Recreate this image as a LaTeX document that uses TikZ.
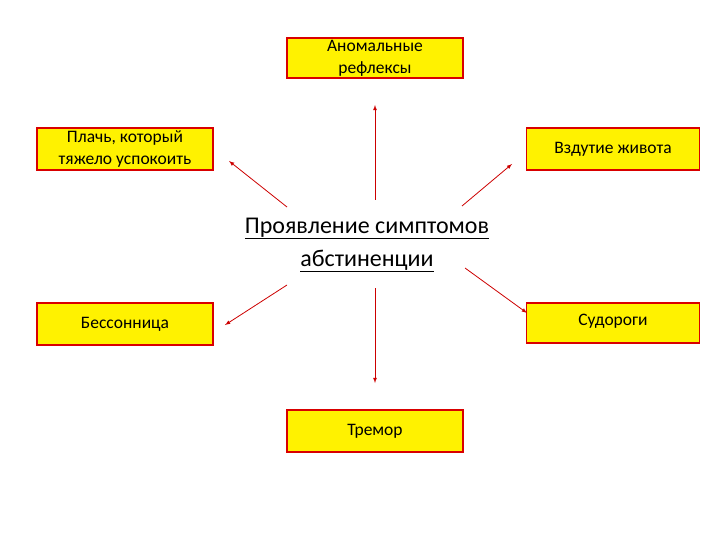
\documentclass[tikz,border=0pt]{standalone}
\usepackage{fontspec}
\setmainfont{Carlito}
\begin{document}
\begin{tikzpicture}[x=1pt,y=-1pt,
  box/.style={draw=red!85!black,line width=1.3pt,fill=yellow,inner sep=0pt,align=center,font=\fontsize{17.5}{22}\selectfont},
  arr/.style={draw=red!80!black,line width=0.8pt,-latex}]
\useasboundingbox (0,0) rectangle (720,540);
\node[box,minimum width=176,minimum height=40] (top) at (375,58) {Аномальные\\рефлексы};
\node[box,minimum width=176,minimum height=42] (lt) at (125,149) {Плачь, который\\тяжело успокоить};
\node[box,minimum width=173,minimum height=42] (rt) at (613,149) {Вздутие живота};
\node[box,minimum width=176,minimum height=42] (lb) at (125,324) {Бессонница};
\node[box,minimum width=173,minimum height=40,anchor=center] (rb) at (613,323) {\raisebox{6pt}{Судороги}};
\node[box,minimum width=176,minimum height=42] (bt) at (375,431) {Тремор};
\node[align=center,font=\fontsize{24}{33}\selectfont] (c) at (367,245) {\underline{Проявление симптомов}\\\underline{абстиненции}};
\coordinate (a1) at (375,200); \coordinate (b1) at (375,105);
\coordinate (a2) at (287,207); \coordinate (b2) at (229,161);
\coordinate (a3) at (462,206); \coordinate (b3) at (512,164);
\coordinate (a4) at (287,285); \coordinate (b4) at (225,325);
\coordinate (a5) at (465,268); \coordinate (b5) at (527,313);
\coordinate (a6) at (375,288); \coordinate (b6) at (375,383);
\foreach \i in {1,...,6} \draw[arr] (a\i) -- (b\i);
\end{tikzpicture}
\end{document}
